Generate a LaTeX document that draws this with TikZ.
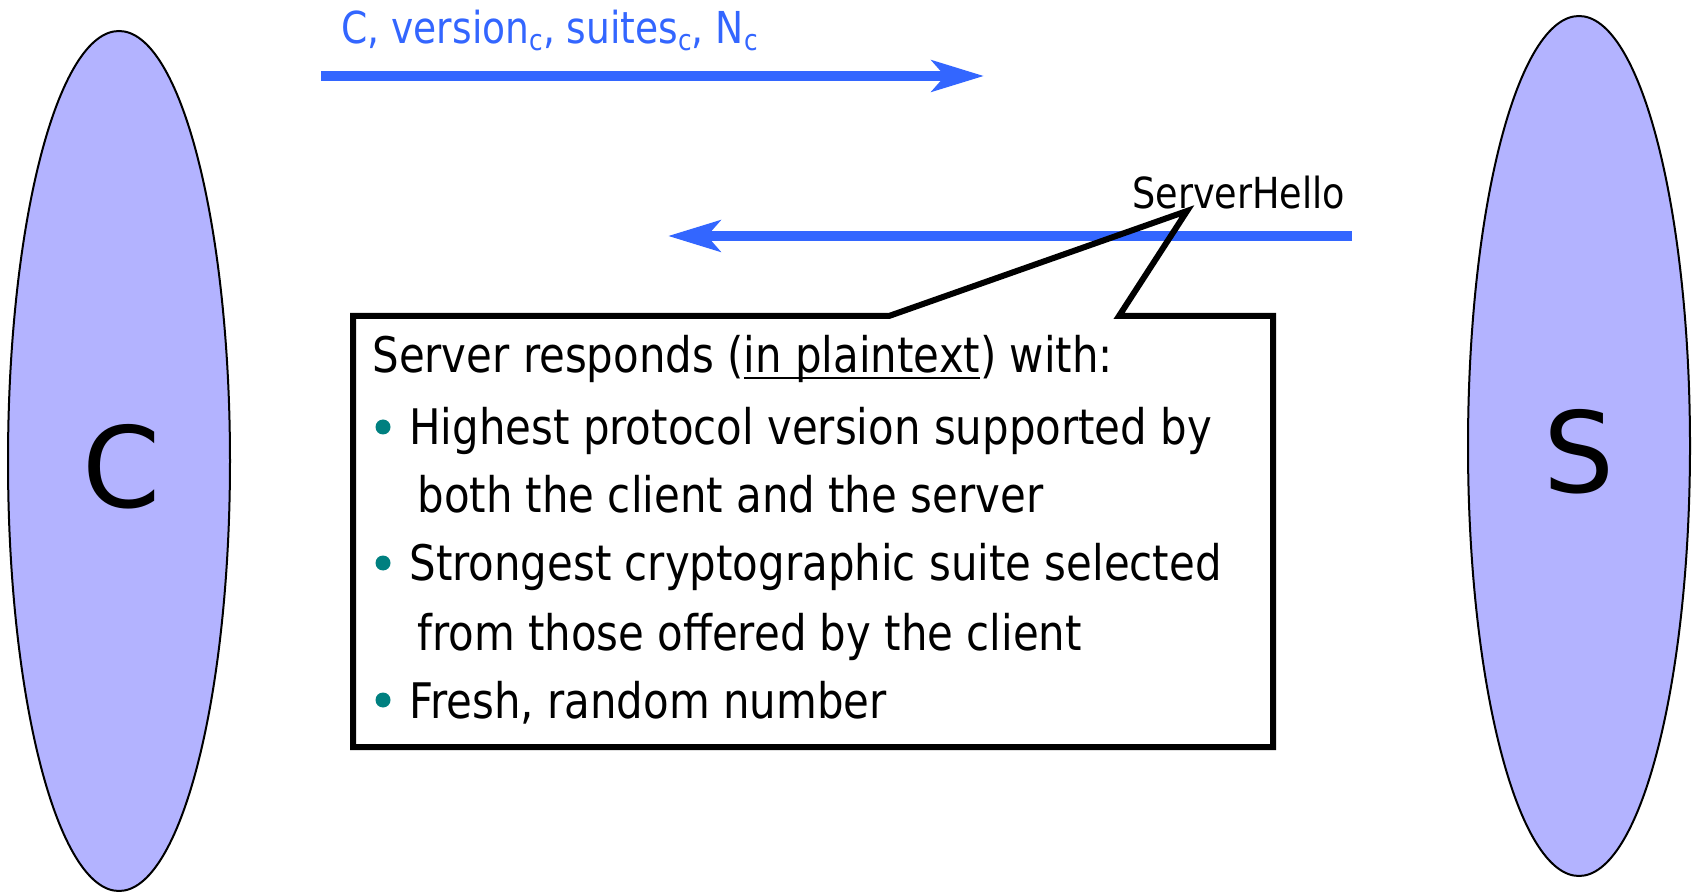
\documentclass[tikz,border=0pt]{standalone}
\usepackage{fontspec}
\setmainfont{DejaVu Sans}[FakeStretch=0.855]
\newfontfamily\letterfont{DejaVu Sans}
\usetikzlibrary{shapes.geometric,arrows.meta}
\definecolor{msgblue}{HTML}{3366FF}
\definecolor{partyfill}{HTML}{B3B3FF}
\definecolor{bullteal}{HTML}{008080}
\newcommand\myul[1]{\setbox0\hbox{#1}\rlap{\rule[-3.2pt]{\wd0}{1.2pt}}#1}
\newcommand\subc{\raisebox{-3.5pt}{\fontsize{14.5pt}{14.5pt}\selectfont c}}
\begin{document}
\begin{tikzpicture}[x=0.5pt,y=-0.5pt]
\useasboundingbox (0,0) rectangle (1696,892);
\tikzset{
 party/.style={ellipse, draw=black, line width=1pt, fill=partyfill, minimum width=111pt, minimum height=430pt, inner sep=0pt},
 partyname/.style={inner sep=0pt, font=\letterfont\fontsize{56pt}{56pt}\selectfont},
 msg/.style={draw=msgblue, line width=5pt, -{Stealth[length=26pt,width=15.5pt,inset=6.5pt,fill=msgblue]}},
 txt/.style={anchor=base west, inner sep=0pt, font=\fontsize{24.5pt}{24.5pt}\selectfont},
 bull/.style={circle, fill=bullteal, inner sep=0pt, minimum size=7.5pt},
 callout/.style={draw=black, line width=3pt, line join=miter}
}
\node[party] (C) at (119,461) {};
\node[party] (S) at (1579,446) {};
\node[partyname] (Cname) at ([xshift=1.5pt,yshift=-2.7pt]C.center) {C};
\node[partyname] (Sname) at ([yshift=-2.7pt]S.center) {S};
\coordinate (m1s) at (321,76);
\coordinate (m1e) at (984,76);
\draw[msg] (m1s) -- (m1e);
\coordinate (m2s) at (1352,236);
\coordinate (m2e) at (668,236);
\draw[msg] (m2s) -- (m2e);
\node[txt, font=\fontsize{22pt}{22pt}\selectfont, text=msgblue] (lbl1) at (341,44) {C, version\subc, suites\subc, N\subc};
\node[txt, font=\fontsize{21.4pt}{21.4pt}\selectfont] (sh) at (1132,209) {ServerHello};
\coordinate (p1) at (889,316);
\coordinate (tip) at (1187,211);
\coordinate (p2) at (1119,316);
\coordinate (ne) at (1273,316);
\coordinate (se) at (1273,747);
\coordinate (sw) at (353,747);
\coordinate (nw) at (353,316);
\draw[callout] (p1) -- (tip) -- (p2) -- (ne) -- (se) -- (sw) -- (nw) -- cycle;
\node[txt] (l0) at (372,373) {Server responds (\myul{in plaintext}) with:};
\node[txt] (l1) at (409,445) {Highest protocol version supported by};
\node[txt] (l2) at (417,513) {both the client and the server};
\node[txt] (l3) at (409,581) {Strongest cryptographic suite selected};
\node[txt] (l4) at (417,650) {from those offered by the client};
\node[txt] (l5) at (409,718) {Fresh, random number};
\node[bull] (b1) at (383,427) {};
\node[bull] (b3) at (383,563) {};
\node[bull] (b5) at (383,700) {};
\end{tikzpicture}
\end{document}
